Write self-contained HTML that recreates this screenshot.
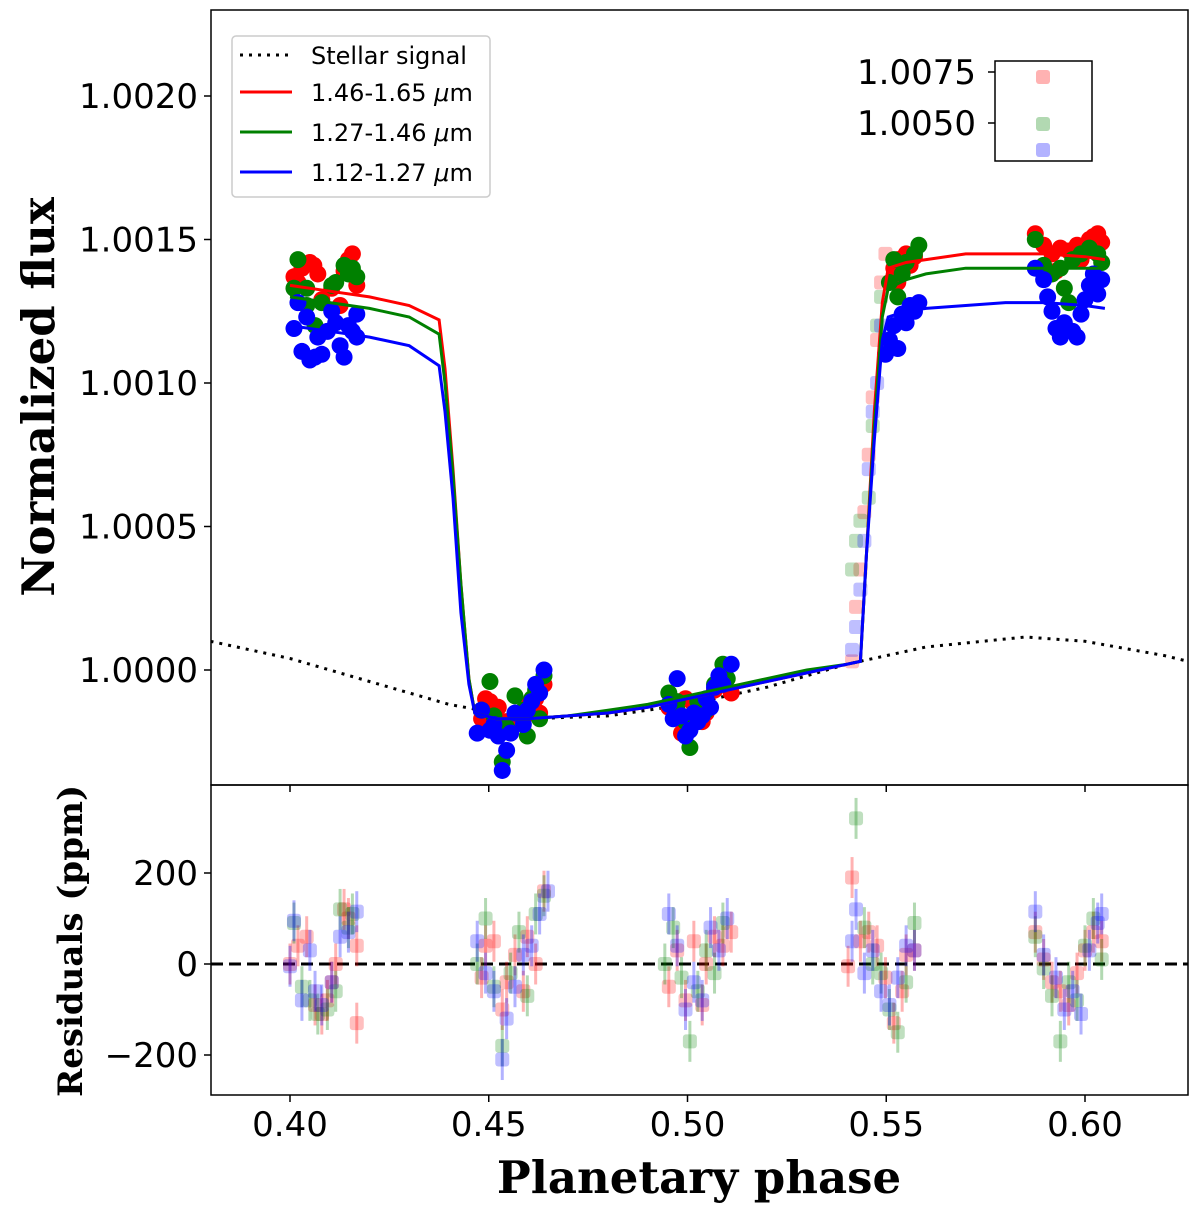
<!DOCTYPE html>
<html><head><meta charset="utf-8">
<style>
body{margin:0;background:#fff;}
svg text{font-family:"DejaVu Sans","Liberation Sans",sans-serif;}
</style></head>
<body>
<svg id="chart" width="1200" height="1219" xmlns="http://www.w3.org/2000/svg"></svg>
<script>
// ---- data ----
const modelPhase=[0.40,0.41,0.42,0.43,0.4375,0.439,0.441,0.443,0.445,0.4465,0.452,0.46,0.47,0.48,0.49,0.50,0.51,0.52,0.53,0.54,0.5435,0.545,0.547,0.549,0.5505,0.555,0.56,0.57,0.58,0.59,0.60,0.605];
const redModel=[1.00134,1.00132,1.0013,1.00127,1.00122,1.00105,1.0007,1.0003,0.99997,0.99985,0.99983,0.99983,0.99984,0.99985,0.99987,0.9999,0.99993,0.99996,0.99999,1.00002,1.00003,1.0004,1.0009,1.00128,1.0014,1.00142,1.00143,1.00145,1.00145,1.00145,1.00144,1.00143];
const greenModel=[1.0013,1.00128,1.00126,1.00123,1.00117,1.001,1.00068,1.0003,0.99997,0.99985,0.99983,0.99983,0.99984,0.99986,0.99988,0.99991,0.99994,0.99997,1.0,1.00002,1.00003,1.0004,1.00085,1.00123,1.00133,1.00136,1.00138,1.0014,1.0014,1.0014,1.0014,1.0014];
const blueModel=[1.0012,1.00118,1.00116,1.00113,1.00106,1.0009,1.0006,1.0002,0.99995,0.99985,0.99983,0.99983,0.99984,0.99985,0.99987,0.9999,0.99993,0.99996,0.99999,1.00002,1.00003,1.0004,1.0008,1.00115,1.00123,1.00125,1.00126,1.00127,1.00128,1.00128,1.00127,1.00126];
const stellarPhase=[0.38,0.40,0.42,0.44,0.46,0.48,0.50,0.52,0.54,0.56,0.585,0.60,0.62,0.626];
const stellarFlux=[1.0001,1.00004,0.99996,0.99988,0.99983,0.99984,0.99988,0.99994,1.00002,1.00008,1.000115,1.0001,1.00005,1.00003];
const redPts=[[0.401,1.00137],[0.402,1.00135],[0.403,1.0014],[0.405,1.00142],[0.406,1.00141],[0.407,1.00138],[0.408,1.00129],[0.4105,1.00133],[0.4126,1.00127],[0.4136,1.00139],[0.4147,1.00143],[0.4157,1.00145],[0.4168,1.00134],
[0.4482,0.99983],[0.4492,0.9999],[0.4503,0.99989],[0.4524,0.99987],[0.4545,0.99982],[0.4555,0.9998],[0.4576,0.99985],[0.4587,0.99983],[0.4597,0.99988],[0.4618,0.9999],[0.4628,0.99985],[0.4639,0.99995],
[0.4953,0.99987],[0.4974,0.99984],[0.4985,0.99978],[0.4995,0.9999],[0.5016,0.99988],[0.5037,0.99982],[0.5047,0.99985],[0.5068,0.99993],[0.5089,0.99997],[0.511,0.99992],
[0.5519,1.0014],[0.5529,1.00135],[0.5529,1.00143],[0.554,1.00139],[0.555,1.00145],[0.556,1.00141],[0.5571,1.00144],
[0.5875,1.00152],[0.5896,1.00148],[0.5917,1.00145],[0.5927,1.00139],[0.5938,1.00147],[0.5959,1.00146],[0.598,1.00148],[0.599,1.00143],[0.6011,1.0015],[0.6021,1.00151],[0.6032,1.00152],[0.6042,1.00149]];
const greenPts=[[0.401,1.00133],[0.402,1.00143],[0.4042,1.00127],[0.4042,1.00133],[0.4063,1.0012],[0.408,1.00128],[0.4105,1.00134],[0.4115,1.00135],[0.4136,1.00141],[0.4147,1.00138],[0.4157,1.0014],[0.4168,1.00137],
[0.4482,0.99986],[0.4503,0.99996],[0.4513,0.99984],[0.4534,0.99968],[0.4545,0.9998],[0.4566,0.99991],[0.4587,0.99986],[0.4597,0.99977],[0.4608,0.9999],[0.4618,0.99993],[0.4628,0.99983],[0.4639,0.99998],
[0.4953,0.99992],[0.4974,0.99989],[0.4974,0.99986],[0.4995,0.99982],[0.5006,0.99973],[0.5026,0.99989],[0.5047,0.99986],[0.5068,0.99995],[0.5089,1.00002],[0.51,0.99997],
[0.5508,1.00135],[0.5519,1.00143],[0.5529,1.0013],[0.554,1.00138],[0.555,1.00142],[0.5571,1.00145],[0.5582,1.00148],
[0.5875,1.0015],[0.5896,1.00141],[0.5917,1.00138],[0.5938,1.0014],[0.5948,1.00133],[0.5959,1.00128],[0.5969,1.00143],[0.599,1.00145],[0.6011,1.00147],[0.6032,1.00145],[0.6042,1.00142]];
const bluePts=[[0.401,1.00119],[0.402,1.00128],[0.403,1.00111],[0.4042,1.00123],[0.405,1.00108],[0.4063,1.00109],[0.407,1.00116],[0.408,1.0011],[0.4094,1.00118],[0.4105,1.00125],[0.4115,1.00121],[0.4126,1.00113],[0.4136,1.00109],[0.4147,1.0012],[0.4157,1.00118],[0.4168,1.00124],[0.4168,1.00116],
[0.4471,0.99978],[0.4482,0.99986],[0.4503,0.99979],[0.4513,0.99981],[0.4524,0.99977],[0.4534,0.99965],[0.4545,0.99972],[0.4555,0.99978],[0.4566,0.99985],[0.4587,0.99981],[0.4597,0.99986],[0.4608,0.99989],[0.4618,0.99995],[0.4628,0.99992],[0.4639,1.0],
[0.4953,0.99988],[0.4964,0.99983],[0.4974,0.99997],[0.4985,0.99984],[0.4995,0.99977],[0.5006,0.99979],[0.5016,0.99985],[0.5026,0.99982],[0.5037,0.99984],[0.5047,0.9999],[0.5058,0.99987],[0.5068,0.99994],[0.5079,0.99998],[0.5089,0.99995],[0.511,1.00002],
[0.5498,1.0011],[0.5508,1.00115],[0.5519,1.0012],[0.5529,1.00112],[0.554,1.00124],[0.555,1.00121],[0.556,1.00127],[0.5571,1.00125],[0.5582,1.00128],
[0.5875,1.0014],[0.5896,1.00136],[0.5906,1.0013],[0.5917,1.00125],[0.5927,1.00119],[0.5938,1.00116],[0.5948,1.00121],[0.5969,1.00118],[0.598,1.00116],[0.599,1.00124],[0.6,1.00129],[0.6011,1.00134],[0.6021,1.00138],[0.6032,1.00131],[0.6042,1.00136]];
const redIngress=[[0.5414,1.00003],[0.5424,1.00022],[0.5435,1.00035],[0.5445,1.00055],[0.5456,1.00075],[0.5466,1.00095],[0.5477,1.00115],[0.5487,1.00135],[0.5498,1.00145]];
const greenIngress=[[0.5414,1.00035],[0.5424,1.00045],[0.5435,1.00052],[0.5456,1.0006],[0.5466,1.00085],[0.5477,1.0012],[0.5487,1.0013]];
const blueIngress=[[0.5414,1.00007],[0.5424,1.00015],[0.5435,1.00028],[0.5445,1.00045],[0.5456,1.0007],[0.5466,1.0009],[0.5477,1.001],[0.5487,1.0012]];
const redRes=[[0.4,0],[0.402,40],[0.4042,60],[0.4063,-90],[0.408,-110],[0.4094,-80],[0.4105,-40],[0.4115,0],[0.4136,120],[0.4147,100],[0.4168,40],[0.4168,-130],
[0.4482,-30],[0.4492,40],[0.4513,50],[0.4534,-100],[0.4545,-40],[0.4566,20],[0.4587,-60],[0.4597,60],[0.4618,0],[0.4639,160],
[0.4953,-50],[0.4974,30],[0.4995,-80],[0.5016,50],[0.5037,-90],[0.5047,0],[0.5068,60],[0.5089,40],[0.511,70],
[0.5404,-5],[0.5414,190],[0.5435,50],[0.5456,70],[0.5477,40],[0.5498,-30],[0.5519,-130],[0.554,-60],[0.555,20],[0.5571,30],
[0.5875,70],[0.5896,10],[0.5917,-40],[0.5938,-60],[0.5959,-90],[0.598,-20],[0.6,30],[0.6021,70],[0.6042,50]];
const greenRes=[[0.401,90],[0.403,-50],[0.405,-80],[0.407,-110],[0.4094,-100],[0.4115,-60],[0.4126,120],[0.4147,80],[0.4157,110],
[0.4471,0],[0.4492,100],[0.4513,-50],[0.4534,-180],[0.4555,-20],[0.4576,70],[0.4597,-70],[0.4618,110],[0.4639,150],
[0.4943,0],[0.4964,80],[0.4985,-30],[0.5006,-170],[0.5026,-60],[0.5047,30],[0.5068,-20],[0.5089,90],
[0.5424,320],[0.5445,80],[0.5466,0],[0.5487,-20],[0.5508,-100],[0.5529,-150],[0.555,-40],[0.5571,90],
[0.5875,60],[0.5896,-10],[0.5917,-70],[0.5938,-170],[0.5959,-40],[0.598,-80],[0.6,40],[0.6021,100],[0.6042,10]];
const blueRes=[[0.4,-5],[0.401,95],[0.403,-80],[0.405,30],[0.4063,-60],[0.408,-90],[0.4105,-40],[0.4126,60],[0.4147,70],[0.4168,115],
[0.4471,50],[0.4492,-20],[0.4513,-60],[0.4534,-210],[0.4545,-120],[0.4566,-50],[0.4587,20],[0.4608,40],[0.4628,110],[0.4649,160],
[0.4953,110],[0.4974,40],[0.4995,-100],[0.5016,-40],[0.5037,-80],[0.5058,80],[0.5079,30],[0.51,100],
[0.5414,50],[0.5424,120],[0.5445,-20],[0.5466,30],[0.5487,-60],[0.5508,-90],[0.5529,-30],[0.555,40],[0.5571,30],
[0.5875,115],[0.5896,20],[0.5927,-30],[0.5948,-100],[0.5969,-60],[0.599,-110],[0.6011,30],[0.6032,90],[0.6042,110]];
const xTicks=[0.40,0.45,0.50,0.55,0.60];
const yTicks=[1.0000,1.0005,1.0010,1.0015,1.0020];
const resTicks=[-200,0,200];

// ---- axes ----
const L=211,R=1188,T1=10,B1=785,B2=1095;
const xS=p=>290+(p-0.40)*3975;
const yS=f=>670-(f-1)*287000;
const rS=v=>964-v*0.455;
const svg=document.getElementById('chart');
const NS='http://www.w3.org/2000/svg';
function el(tag,attrs,parent,text){const e=document.createElementNS(NS,tag);for(const k in attrs)e.setAttribute(k,attrs[k]);if(text!==undefined)e.textContent=text;(parent||svg).appendChild(e);return e;}
const defs=el('defs',{});
const c1=el('clipPath',{id:'c1'},defs);el('rect',{x:L,y:T1,width:R-L,height:B1-T1},c1);
const c2=el('clipPath',{id:'c2'},defs);el('rect',{x:L,y:B1,width:R-L,height:B2-B1},c2);
const g1=el('g',{'clip-path':'url(#c1)'});


const g2=el('g',{'clip-path':'url(#c2)'});



function path(xs,ys,g,attrs,name){let d='';xs.forEach((p,i)=>{d+=(i?'L':'M')+xS(p).toFixed(1)+','+yS(ys[i]).toFixed(1);});const e=el('path',Object.assign({d:d,fill:'none'},attrs),g);return e;}
path(stellarPhase,stellarFlux,g1,{stroke:'#000','stroke-width':3,'stroke-dasharray':'3,6'},'stellar-signal-line');

[[redIngress,'#ff0000'],[greenIngress,'#008000'],[blueIngress,'#0000ff']].forEach(([arr,c])=>{arr.forEach(pt=>{const e=el('rect',{x:xS(pt[0])-7,y:yS(pt[1])-7,width:14,height:14,rx:3,fill:c,'fill-opacity':0.25},g1);

});});
[[redPts,'#ff0000'],[greenPts,'#008000'],[bluePts,'#0000ff']].forEach(([arr,c])=>{arr.forEach(pt=>{const e=el('circle',{cx:xS(pt[0]),cy:yS(pt[1]),r:8.5,fill:c},g1);

});});
path(modelPhase,redModel,g1,{stroke:'#ff0000','stroke-width':3},'red-model-line');
path(modelPhase,greenModel,g1,{stroke:'#008000','stroke-width':3},'green-model-line');
path(modelPhase,blueModel,g1,{stroke:'#0000ff','stroke-width':3},'blue-model-line');

const zl=el('line',{x1:L,x2:R,y1:rS(0),y2:rS(0),stroke:'#000','stroke-width':3,'stroke-dasharray':'12,6'},g2);


[[redRes,'#ff0000'],[greenRes,'#008000'],[blueRes,'#0000ff']].forEach(([arr,c])=>{arr.forEach(pt=>{const x=xS(pt[0]),y=rS(pt[1]);
const eb=el('line',{x1:x,x2:x,y1:rS(pt[1]+45),y2:rS(pt[1]-45),stroke:c,'stroke-opacity':0.3,'stroke-width':3},g2);


const e=el('rect',{x:x-7,y:y-7,width:14,height:14,rx:3,fill:c,'fill-opacity':0.25},g2);

});});

el('rect',{x:L,y:T1,width:R-L,height:B1-T1,fill:'none',stroke:'#000','stroke-width':1.5});
el('rect',{x:L,y:B1,width:R-L,height:B2-B1,fill:'none',stroke:'#000','stroke-width':1.5});
xTicks.forEach(t=>{const x=xS(t);el('line',{x1:x,x2:x,y1:B2,y2:B2+7,stroke:'#000','stroke-width':1.5});el('line',{x1:x,x2:x,y1:B1,y2:B1+7,stroke:'#000','stroke-width':1.5});
const tx=el('text',{x:x,y:B2+41,'text-anchor':'middle','font-size':34},null,t.toFixed(2));

});
yTicks.forEach(t=>{const y=yS(t);el('line',{x1:L-7,x2:L,y1:y,y2:y,stroke:'#000','stroke-width':1.5});
const tx=el('text',{x:L-13,y:y+12,'text-anchor':'end','font-size':34},null,t.toFixed(4));

});
resTicks.forEach(t=>{const y=rS(t);el('line',{x1:L-7,x2:L,y1:y,y2:y,stroke:'#000','stroke-width':1.5});
const tx=el('text',{x:L-13,y:y+12,'text-anchor':'end','font-size':34},null,t<0?'\u2212'+Math.abs(t):String(t));

});
</script>
<svg style="position:absolute;left:0;top:0" width="1200" height="1219" xmlns="http://www.w3.org/2000/svg">
<text transform="translate(54,397) rotate(-90)" text-anchor="middle" font-size="45" font-weight="bold" style="font-family:'DejaVu Serif','Liberation Serif',serif">Normalized flux</text>
<text transform="translate(82,941) rotate(-90)" text-anchor="middle" font-size="34" font-weight="bold" style="font-family:'DejaVu Serif','Liberation Serif',serif">Residuals (ppm)</text>
<text x="699" y="1193" text-anchor="middle" font-size="45" font-weight="bold" style="font-family:'DejaVu Serif','Liberation Serif',serif">Planetary phase</text>
<g>
<rect x="232" y="36" width="258" height="161" rx="4" fill="#fff" stroke="#ccc" stroke-width="1.5"/>
<line x1="240" x2="292" y1="55" y2="55" stroke="#000" stroke-width="3" stroke-dasharray="3,6"/>
<text x="311" y="64" font-size="24">Stellar signal</text>
<line x1="240" x2="292" y1="92" y2="92" stroke="#f00" stroke-width="3"/>
<text x="311" y="101" font-size="24">1.46-1.65 <tspan font-style="italic">μ</tspan>m</text>
<line x1="240" x2="292" y1="132" y2="132" stroke="#008000" stroke-width="3"/>
<text x="311" y="141" font-size="24">1.27-1.46 <tspan font-style="italic">μ</tspan>m</text>
<line x1="240" x2="292" y1="172" y2="172" stroke="#00f" stroke-width="3"/>
<text x="311" y="181" font-size="24">1.12-1.27 <tspan font-style="italic">μ</tspan>m</text>
</g>
<g>
<rect x="995" y="61" width="97" height="100" fill="#fff" stroke="#000" stroke-width="1.5"/>
<line x1="988" x2="995" y1="72" y2="72" stroke="#000" stroke-width="1.5"/>
<line x1="988" x2="995" y1="123" y2="123" stroke="#000" stroke-width="1.5"/>
<text x="976" y="84" text-anchor="end" font-size="34">1.0075</text>
<text x="976" y="135" text-anchor="end" font-size="34">1.0050</text>
<rect x="1036" y="70" width="14" height="14" rx="3" fill="#f00" fill-opacity="0.3"/>
<rect x="1036" y="117" width="14" height="14" rx="3" fill="#008000" fill-opacity="0.3"/>
<rect x="1036" y="143" width="14" height="14" rx="3" fill="#00f" fill-opacity="0.3"/>
</g>
</svg>
</body></html>
